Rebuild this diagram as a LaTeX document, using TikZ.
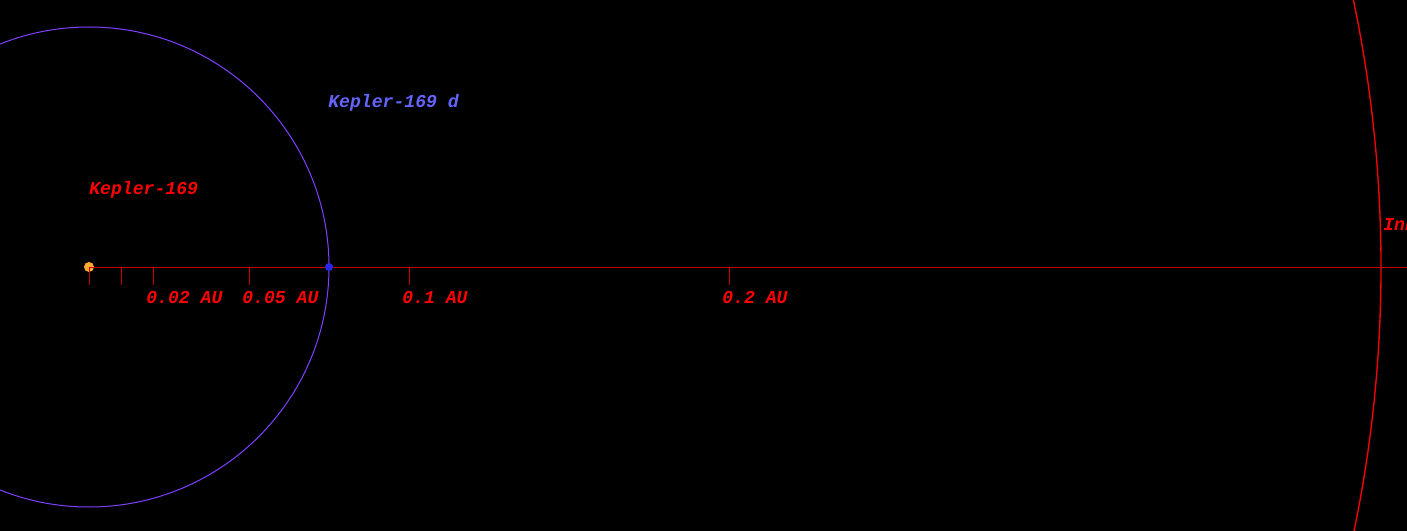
\documentclass[tikz,border=0pt]{standalone}
\usepackage{fontspec}
\newfontfamily\monofnt{Liberation Mono}
\definecolor{orbitpurple}{RGB}{128,64,255}
\definecolor{planetblue}{RGB}{40,40,240}
\definecolor{labelblue}{RGB}{100,100,255}
\definecolor{starorange}{RGB}{255,170,50}
\definecolor{axisred}{RGB}{200,0,0}
\tikzset{
  lbl/.style={inner sep=0pt, anchor=base west, font=\monofnt\bfseries\itshape\fontsize{13.6}{16}\selectfont},
  redlbl/.style={lbl, text=red},
  tick/.style={draw=axisred, line width=0.75pt},
}
\begin{document}
\begin{tikzpicture}[x=0.75pt,y=-0.75pt]
\fill[black] (0,0) rectangle (1407,531);
\useasboundingbox (0,0) rectangle (1407,531);
\clip (0,0) rectangle (1407,531);
% orbits
\draw[orbitpurple, line width=0.75pt] (89,267) circle (240);
\draw[red, line width=1pt] (89,267) circle (1292);
% axis
\coordinate (axisend) at (1407,267);
\node[circle, fill=starorange, inner sep=0pt, minimum size=7.5pt] (star) at (89,267) {};
\draw[axisred, line width=0.75pt] (star.center) -- (axisend);
\foreach \x in {89,121,153,249,409,729} \draw[tick] (\x,267) -- (\x,285);
\node[circle, fill=planetblue, inner sep=0pt, minimum size=6pt] (planet) at (329,267) {};
% labels
\node[redlbl] (starlbl) at (89,195) {Kepler-169};
\node[lbl, text=labelblue] (planetlbl) at (328,108) {Kepler-169 d};
\node[redlbl] (l002) at (146,303) {0.02 AU};
\node[redlbl] (l005) at (242,303) {0.05 AU};
\node[redlbl] (l01) at (402,303) {0.1 AU};
\node[redlbl] (l02) at (722,303) {0.2 AU};
\node[redlbl] (inner) at (1383,231) {Inn};
\end{tikzpicture}
\end{document}
